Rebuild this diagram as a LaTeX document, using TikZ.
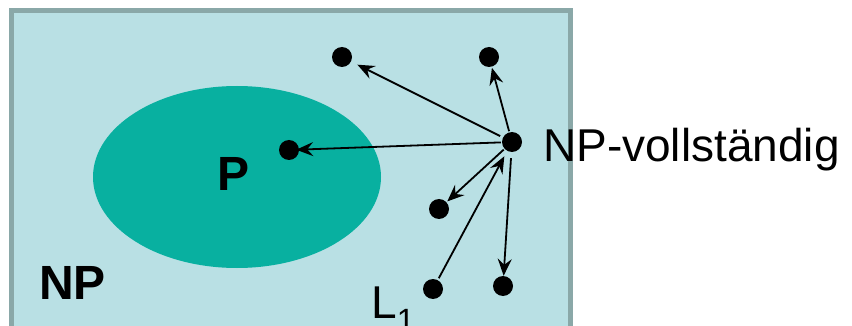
\documentclass[tikz,border=0pt]{standalone}
\usepackage{fontspec}
\setmainfont{Liberation Sans}
\usetikzlibrary{arrows.meta}
\definecolor{boxfill}{RGB}{185,224,228}
\definecolor{boxline}{RGB}{138,168,168}
\definecolor{pfill}{RGB}{8,176,160}
\begin{document}
\begin{tikzpicture}[x=1pt,y=-1pt,
  dot/.style={circle,fill=black,inner sep=0pt,minimum size=20pt},
  link/.style={line width=1.8pt,-{Stealth[length=17pt,width=14pt,inset=6pt]}},
  lbl/.style={inner sep=0pt,font=\fontsize{46}{50}\selectfont},
  blbl/.style={inner sep=0pt,font=\fontsize{48}{52}\selectfont\bfseries}]
\useasboundingbox (0,0) rectangle (852,326);
% the class NP and the class P inside it
\draw[boxline,fill=boxfill,line width=5pt] (11.5,10.5) rectangle (570.5,334);
\fill[pfill] (237,177) ellipse [x radius=144,y radius=91];
% problems
\node[dot] (npc) at (512,142) {};
\node[dot] (a) at (342,57) {};
\node[dot] (b) at (489,57) {};
\node[dot] (p) at (289,150) {};
\node[dot] (c) at (439,209) {};
\node[dot] (l) at (433,289) {};
\node[dot] (d) at (503,286) {};
% labels
\node[lbl,anchor=base west] (npclbl) at (543,162) {NP-vollständig};
\node[blbl,anchor=base west] (plbl) at (217,190) {P};
\node[blbl,anchor=base west] (nplbl) at (39,299) {NP};
\node[lbl,anchor=base west] (llbl) at (371,318) {L\textsubscript{1}};
% reductions
\draw[link,shorten <=3pt,shorten >=7pt] (npc) -- (a);
\draw[link,shorten <=1pt,shorten >=1pt] (npc) -- (b);
\draw[link,shorten <=1pt,shorten >=-3pt] (npc) -- (p);
\draw[link,shorten <=1pt,shorten >=1pt] (npc) -- (c);
\draw[link,shorten <=2pt,shorten >=6pt] (l) -- (npc);
\draw[link,shorten <=6pt,shorten >=0pt] (npc) -- (d);
\end{tikzpicture}
\end{document}
